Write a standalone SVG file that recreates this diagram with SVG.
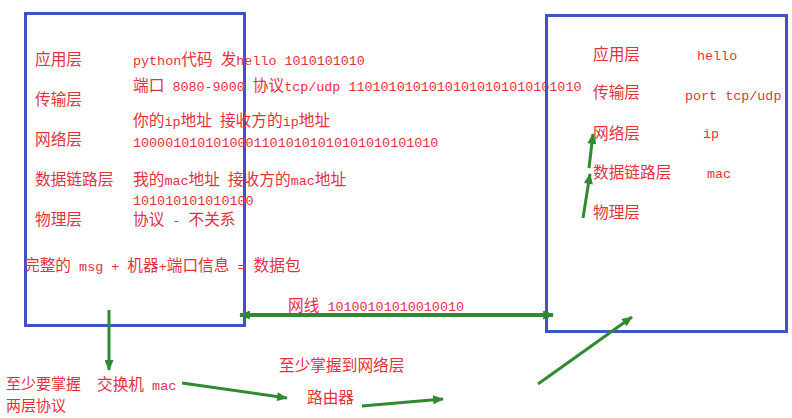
<svg xmlns="http://www.w3.org/2000/svg" width="792" height="418" viewBox="0 0 792 418">
<style>
.box{fill:none;stroke:#4052c4;stroke-width:3}
text{font-family:"Noto Sans CJK SC","Liberation Mono",sans-serif;font-size:15.7px;fill:#e2323f}
.m{font-family:"Liberation Mono","Noto Sans CJK SC",monospace;font-size:13.4px}
.s{font-size:15px}
.ln{stroke:#2f8a32;stroke-width:3;fill:none;marker-end:url(#ah)}
</style>
<defs>
<marker id="ah" viewBox="0 0 12 10" refX="11" refY="5" markerWidth="12" markerHeight="9" markerUnits="userSpaceOnUse" orient="auto-start-reverse">
<path d="M0,0 L12,5 L0,10 z" fill="#2f8a32"/>
</marker>
</defs>
<rect width="792" height="418" fill="#ffffff"/>
<g id="left-host">
<rect class="box" x="25.5" y="13.5" width="219" height="312"/>
<text x="35" y="65">应用层</text>
<text x="35" y="105">传输层</text>
<text x="35" y="145">网络层</text>
<text x="35" y="185">数据链路层</text>
<text x="35" y="225">物理层</text>
<text x="133" y="65"><tspan class="m">python</tspan>代码<tspan class="m"> </tspan>发<tspan class="m">hello 1010101010</tspan></text>
<text x="133" y="91">端口<tspan class="m"> 8080-9000 </tspan>协议<tspan class="m">tcp/udp 11010101010101010101010101010</tspan></text>
<text x="133" y="126">你的<tspan class="m">ip</tspan>地址<tspan class="m"> </tspan>接收方的<tspan class="m">ip</tspan>地址</text>
<text x="133" y="147" class="m">10000101010100011010101010101010101010</text>
<text x="133" y="185">我的<tspan class="m">mac</tspan>地址<tspan class="m"> </tspan>接收方的<tspan class="m">mac</tspan>地址</text>
<text x="133" y="205" class="m">101010101010100</text>
<text x="133" y="225">协议<tspan class="m"> - </tspan>不关系</text>
<text x="24" y="271">完整的<tspan class="m"> msg + </tspan>机器<tspan class="m">+</tspan>端口信息<tspan class="m"> = </tspan>数据包</text>
</g>
<g id="right-host">
<rect class="box" x="546.5" y="15.5" width="240" height="316"/>
<text x="593" y="60">应用层</text>
<text x="593" y="98">传输层</text>
<text x="593" y="139">网络层</text>
<text x="593" y="178">数据链路层</text>
<text x="593" y="218">物理层</text>
<text x="697" y="60" class="m">hello</text>
<text x="685" y="100" class="m">port tcp/udp</text>
<text x="703" y="138" class="m">ip</text>
<text x="707" y="178" class="m">mac</text>
</g>
<g id="cable-label">
<text x="288" y="311">网线<tspan class="m"> 10100101010010010</tspan></text>
</g>
<g id="switch">
<text x="97" y="390">交换机<tspan class="m"> mac</tspan></text>
<text x="6" y="389" class="s">至少要掌握</text>
<text x="6" y="411" class="s">两层协议</text>
</g>
<g id="router">
<text x="279" y="371">至少掌握到网络层</text>
<text x="307" y="403">路由器</text>
</g>
<g id="connectors">
<line class="ln" x1="583" y1="218" x2="590" y2="174"/>
<line class="ln" x1="589" y1="168" x2="593" y2="134"/>
<line class="ln" x1="240" y1="315" x2="553" y2="315" style="stroke-width:4;marker-start:url(#ah)"/>
<circle cx="547" cy="315" r="3" fill="#2f8a32"/>
<line class="ln" x1="109" y1="310" x2="109" y2="370"/>
<line class="ln" x1="182" y1="383" x2="287" y2="398"/>
<line class="ln" x1="362" y1="406" x2="443" y2="399"/>
<line class="ln" x1="538" y1="384" x2="632" y2="317"/>
</g>
</svg>
